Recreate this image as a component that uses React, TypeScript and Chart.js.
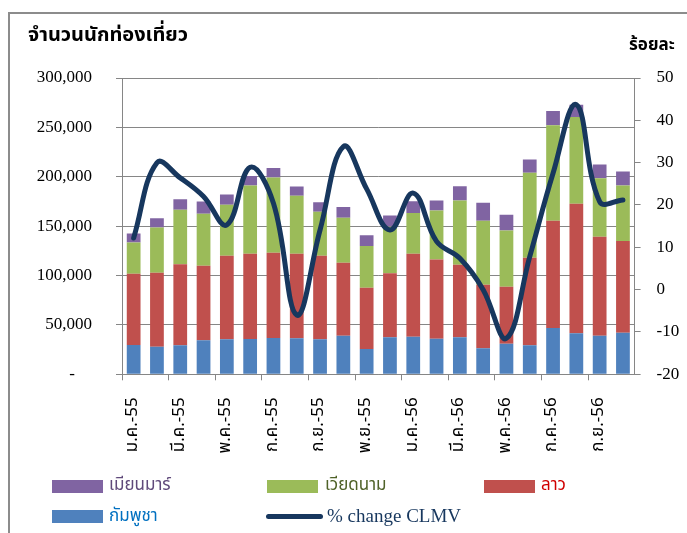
import { useEffect, useRef } from 'react';
import { Chart, registerables } from 'chart.js';

Chart.register(...registerables);

const months = [
  'ม.ค.-55', 'ก.พ.-55', 'มี.ค.-55', 'เม.ย.-55', 'พ.ค.-55', 'มิ.ย.-55',
  'ก.ค.-55', 'ส.ค.-55', 'ก.ย.-55', 'ต.ค.-55', 'พ.ย.-55', 'ธ.ค.-55',
  'ม.ค.-56', 'ก.พ.-56', 'มี.ค.-56', 'เม.ย.-56', 'พ.ค.-56', 'มิ.ย.-56',
  'ก.ค.-56', 'ส.ค.-56', 'ก.ย.-56', 'ต.ค.-56',
];

const cambodia = [29700, 28000, 29300, 34400, 35400, 35700, 36800, 36400, 35400, 39100, 25600, 37400, 38100, 36100, 37400, 26300, 31000, 29300, 46900, 41500, 39100, 42100];
const laos = [72100, 74800, 82000, 75500, 84600, 86300, 86300, 85600, 84600, 73800, 62100, 64800, 83900, 80200, 73500, 64400, 57700, 88700, 108500, 131100, 100100, 92800];
const vietnam = [31700, 45900, 55300, 52600, 51600, 69200, 76200, 58700, 44500, 45600, 42100, 47200, 41200, 49600, 65100, 64700, 57000, 86000, 96800, 88000, 59400, 56300];
const myanmar = [9100, 9400, 10700, 12500, 10500, 9700, 9700, 9500, 9800, 10800, 11100, 11400, 12100, 10100, 14500, 18200, 15800, 13500, 14500, 12200, 13800, 14100];
const pctChange = [12.2, 30, 26.4, 22, 15.3, 28.9, 20.4, -6, 14.1, 33.8, 23.8, 14.1, 22.8, 11.4, 7.4, 0, -11.5, 7.8, 27.5, 43.7, 20.8, 21.2];

const C_BLUE = '#4f81bd';
const C_RED = '#c0504d';
const C_GREEN = '#9bbb59';
const C_PURPLE = '#8064a2';
const C_NAVY = '#17375e';
const GRID = '#868686';
const THAI = "'Noto Sans Thai', 'Noto Sans Thai UI', 'Loma', 'Garuda', 'Noto Sans', sans-serif";
const SERIF = "'Liberation Serif', 'Times New Roman', serif";

export default function App() {
  const ref = useRef<HTMLCanvasElement>(null);

  useEffect(() => {
    if (!ref.current) return;
    const chart = new Chart(ref.current, {
      type: 'bar',
      data: {
        labels: months,
        datasets: [
          { type: 'line', label: '% change CLMV', data: pctChange, yAxisID: 'y1', borderColor: C_NAVY, backgroundColor: C_NAVY, borderWidth: 5, tension: 0.4, pointRadius: 0, borderCapStyle: 'round', borderJoinStyle: 'round', order: 0 } as any,
          { label: 'กัมพูชา', data: cambodia, backgroundColor: C_BLUE, yAxisID: 'y', stack: 's', order: 1 },
          { label: 'ลาว', data: laos, backgroundColor: C_RED, yAxisID: 'y', stack: 's', order: 1 },
          { label: 'เวียดนาม', data: vietnam, backgroundColor: C_GREEN, yAxisID: 'y', stack: 's', order: 1 },
          { label: 'เมียนมาร์', data: myanmar, backgroundColor: C_PURPLE, yAxisID: 'y', stack: 's', order: 1 },
        ],
      },
      options: {
        responsive: false,
        animation: false,
        layout: { padding: { top: 78, left: 0, right: 0, bottom: 0 } },
        plugins: { legend: { display: false }, tooltip: { enabled: false } },
        datasets: { bar: { categoryPercentage: 1, barPercentage: 0.59 } },
        scales: {
          x: {
            stacked: true,
            offset: true,
            grid: {
              offset: true,
              drawOnChartArea: false,
              drawTicks: true,
              tickLength: 6,
              tickColor: (ctx: any) => (ctx.index % 2 === 0 ? GRID : 'rgba(0,0,0,0)'),
            },
            border: { display: true, color: GRID, width: 1 },
            ticks: {
              autoSkip: false,
              minRotation: 90,
              maxRotation: 90,
              padding: 17,
              color: '#000',
              font: { family: THAI, size: 17 },
              callback: (_v: any, i: number) => (i % 2 === 0 ? months[i] : ''),
            },
            afterFit: (s: any) => { s.height = 158.7; },
          },
          y: {
            type: 'linear',
            position: 'left',
            stacked: true,
            min: 0,
            max: 300000,
            grid: { color: GRID, lineWidth: 1, tickLength: 6, drawTicks: true },
            border: { display: true, color: GRID, width: 1 },
            ticks: {
              stepSize: 50000,
              padding: 24,
              color: '#000',
              font: { family: SERIF, size: 17 },
              callback: (v: any) => (v === 0 ? '-    ' : Number(v).toLocaleString('en-US')),
            },
            afterFit: (s: any) => { s.width = 122; },
          },
          y1: {
            type: 'linear',
            position: 'right',
            min: -20,
            max: 50,
            grid: { drawOnChartArea: false, color: GRID, tickLength: 6, drawTicks: true },
            border: { display: true, color: GRID, width: 1 },
            ticks: {
              stepSize: 10,
              padding: 16,
              color: '#000',
              font: { family: SERIF, size: 17 },
            },
            afterFit: (s: any) => { s.width = 52.4; },
          },
        },
      },
    });
    return () => chart.destroy();
  }, []);

  const legendText = (color: string, extra: any = {}) => ({
    position: 'absolute' as const,
    fontFamily: THAI,
    fontSize: 17,
    color,
    lineHeight: '20px',
    whiteSpace: 'nowrap' as const,
    ...extra,
  });

  const box = (left: number, top: number, color: string) => (
    <div style={{ position: 'absolute', left, top, width: 51, height: 13, background: color }} />
  );

  return (
    <div style={{ position: 'fixed', left: 0, top: 0, width: 687, height: 533, background: '#fff', overflow: 'hidden' }}>
      <div style={{ position: 'absolute', left: 8, top: 12, width: 720, height: 600, borderLeft: '2px solid #8c8c8c', borderTop: '2px solid #8c8c8c' }} />
      <canvas ref={ref} width={687} height={533} style={{ position: 'absolute', left: 0, top: 0 }} />
      <div style={{ position: 'absolute', left: 28, top: 22, fontFamily: THAI, fontSize: 20, fontWeight: 'bold', color: '#000', whiteSpace: 'nowrap', lineHeight: '26px' }}>จำนวนนักท่องเที่ยว</div>
      <div style={{ position: 'absolute', left: 629, top: 34, fontFamily: THAI, fontSize: 17, fontWeight: 'bold', color: '#000', whiteSpace: 'nowrap', lineHeight: '22px' }}>ร้อยละ</div>

      {box(52, 480, C_PURPLE)}
      <div style={legendText('#5f497a', { left: 109, top: 475 })}>เมียนมาร์</div>
      {box(267, 480, C_GREEN)}
      <div style={legendText('#4f6228', { left: 325, top: 475 })}>เวียดนาม</div>
      {box(484, 480, C_RED)}
      <div style={legendText('#d00000', { left: 541, top: 475 })}>ลาว</div>

      {box(52, 510, C_BLUE)}
      <div style={legendText('#0070c0', { left: 109, top: 506 })}>กัมพูชา</div>
      <div style={{ position: 'absolute', left: 266, top: 514, width: 57, height: 5, borderRadius: 3, background: C_NAVY }} />
      <div style={{ position: 'absolute', left: 327, top: 505, fontFamily: SERIF, fontSize: 19, color: C_NAVY, whiteSpace: 'nowrap', lineHeight: '22px' }}>% change CLMV</div>
    </div>
  );
}
